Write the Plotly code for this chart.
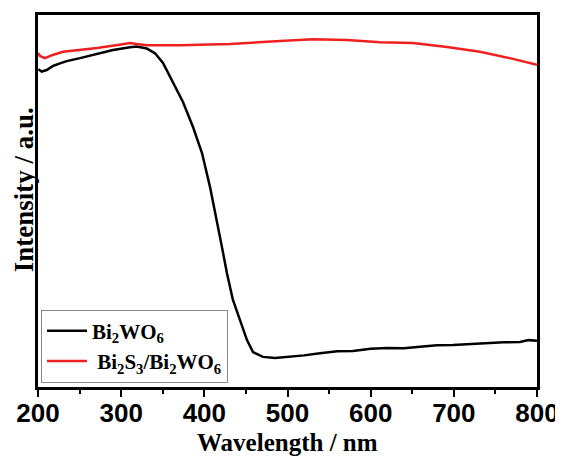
import plotly.graph_objects as go

# Bi2WO6 (black)
wl_bwo = [200.4, 204.4, 210.5, 218, 226.5, 234.5, 250.5, 270.6, 290.2, 310.6, 318.7, 330.7,
          340.7, 350.3, 358.7, 374.3, 386.4, 397.2, 406.8, 415.2, 421.2, 427.2, 434.4, 442.9,
          451.3, 458.5, 470.5, 485, 499.4, 520, 539, 560, 578.7, 600, 619.6, 640, 659.3, 680,
          699, 720, 739.9, 760, 779.5, 790, 800]
int_bwo = [85.4, 84.8, 85.2, 86.3, 87.0, 87.6, 88.4, 89.5, 90.6, 91.3, 91.5, 91.0,
           89.7, 87.1, 83.3, 76.6, 69.9, 62.9, 53.8, 44.9, 37.6, 30.6, 23.4, 18.0,
           12.6, 9.4, 8.1, 7.8, 8.1, 8.5, 9.1, 9.6, 9.7, 10.3, 10.5, 10.4, 10.8, 11.2,
           11.3, 11.6, 11.8, 12.0, 12.1, 12.6, 12.4]

# Bi2S3/Bi2WO6 (red)
wl_bs = [200, 202.4, 208.4, 216.8, 230, 250.5, 270.9, 299.8, 310.6, 319, 331, 370.7,
         430.8, 491, 530.6, 571.5, 611.2, 650.9, 691.8, 731.4, 771.1, 800]
int_bs = [89.8, 89.0, 88.4, 89.2, 90.1, 90.6, 91.1, 92.1, 92.5, 92.2, 91.9, 91.9,
          92.2, 93.0, 93.5, 93.3, 92.7, 92.5, 91.4, 90.1, 88.2, 86.6]

x_ticks = [200, 300, 400, 500, 600, 700, 800]

fig = go.Figure()
fig.add_trace(go.Scatter(x=wl_bwo, y=int_bwo, mode="lines",
                         line=dict(color="black", width=2.5), legendgroup="a",
                         name="Bi<sub>2</sub>WO<sub>6</sub>"))
fig.add_trace(go.Scatter(x=wl_bs, y=int_bs, mode="lines",
                         line=dict(color="#f02020", width=2.5), legendgroup="b",
                         name="\u00a0Bi<sub>2</sub>S<sub>3</sub>/Bi<sub>2</sub>WO<sub>6</sub>"))

# page body has an 8px margin, so the figure is sized to the visible area
fig.update_layout(
    width=555, height=449,
    margin=dict(l=30, r=26, t=7, b=70),
    paper_bgcolor="white", plot_bgcolor="white",
    showlegend=True,
    legend=dict(x=0.006, y=0.012, xanchor="left", yanchor="bottom",
                bordercolor="#888888", borderwidth=1, bgcolor="white",
                font=dict(family="Liberation Serif", size=21, color="black", weight="bold"),
                itemwidth=40, tracegroupgap=0),
    xaxis=dict(range=[200, 800], tickvals=x_ticks, ticks="outside", ticklen=7, tickwidth=2,
               tickcolor="black", showline=True, linecolor="black", linewidth=2.5, mirror=True,
               showgrid=False, zeroline=False, automargin=False, ticklabelstandoff=-6,
               tickfont=dict(family="Liberation Sans", size=26, color="black", weight="bold"),
               minor=dict(dtick=50, ticks="outside", ticklen=4, tickwidth=2, tickcolor="black")),
    yaxis=dict(range=[0, 100], showticklabels=False, ticks="", showline=True, linecolor="black",
               linewidth=2.5, mirror=True, showgrid=False, zeroline=False, automargin=False),
    annotations=[
        dict(text="Wavelength / nm", xref="paper", yref="paper", x=0.5, y=-0.149,
             xanchor="center", yanchor="middle", showarrow=False,
             font=dict(family="Liberation Serif", size=25, color="black", weight="bold")),
        dict(text="Intensity / a.u.", xref="paper", yref="paper", x=-0.029, y=0.53,
             xanchor="center", yanchor="middle", textangle=-90, showarrow=False,
             font=dict(family="Liberation Serif", size=27, color="black", weight="bold")),
    ],
)

fig.write_html("out.html")
